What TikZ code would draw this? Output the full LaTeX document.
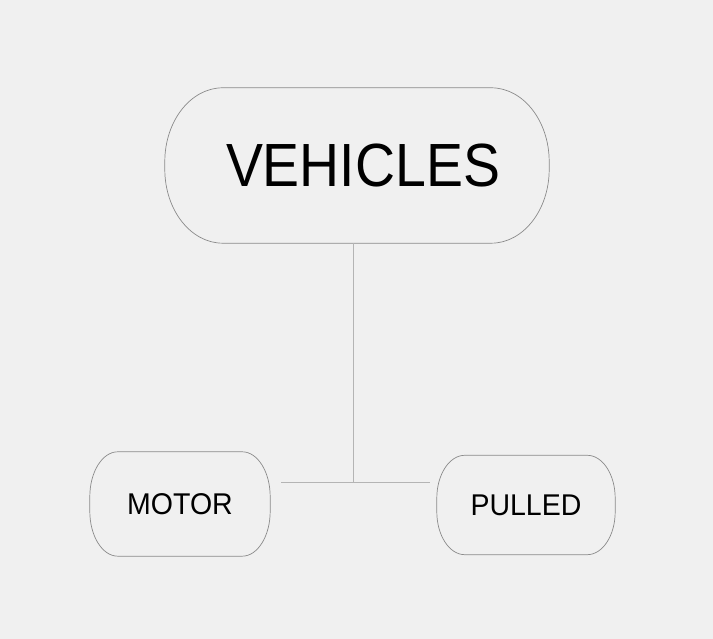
\documentclass[tikz,border=0pt]{standalone}
\usepackage{fontspec}
\setmainfont{Liberation Sans}
\definecolor{bg}{HTML}{F0F0F0}
\definecolor{edge}{HTML}{8A8A8A}
\definecolor{conn}{HTML}{B4B4B4}
% outline with elliptical corners around node #1, radii #2 (x) and #3 (y)
\newcommand{\ovalframe}[3]{%
  \pgfmathsetmacro{\kx}{0.5523*#2}\pgfmathsetmacro{\ky}{0.5523*#3}%
  \draw[frame]
    ([xshift=#2pt]#1.north west) -- ([xshift=-#2pt]#1.north east)
    .. controls +(\kx,0) and +(0,\ky) .. ([yshift=-#3pt]#1.north east)
    -- ([yshift=#3pt]#1.south east)
    .. controls +(0,-\ky) and +(\kx,0) .. ([xshift=-#2pt]#1.south east)
    -- ([xshift=#2pt]#1.south west)
    .. controls +(-\kx,0) and +(0,-\ky) .. ([yshift=#3pt]#1.south west)
    -- ([yshift=-#3pt]#1.north west)
    .. controls +(0,\ky) and +(-\kx,0) .. ([xshift=#2pt]#1.north west) -- cycle;}
\begin{document}
\begin{tikzpicture}[x=1pt,y=1pt,
  frame/.style={draw=edge, line width=0.7pt, line join=round},
  box/.style={inner sep=0pt, text=black},
  link/.style={draw=conn, line width=0.9pt}]
\fill[bg] (0,0) rectangle (713,639);
\useasboundingbox (0,0) rectangle (713,639);
% y measured from top: use 639 - y
\node[box, minimum width=384pt, minimum height=155pt] (V) at (357,473.5) {};
\node[inner sep=0pt, font=\fontsize{61}{72}\selectfont] (Vt) at (363,473.5) {\scalebox{0.908}[1]{VEHICLES}};
\node[box, minimum width=180pt, minimum height=104pt, font=\fontsize{30}{36}\selectfont] (M) at (180,135) {\scalebox{0.95}[1]{MOTOR}};
\node[box, minimum width=178pt, minimum height=99pt, font=\fontsize{30}{36}\selectfont] (P) at (526,134) {\scalebox{0.95}[1]{PULLED}};
\ovalframe{V}{58}{74}
\ovalframe{M}{28}{45}
\ovalframe{P}{28}{43}
\coordinate (j) at (353,157);
\coordinate (jl) at (281,157);
\coordinate (jr) at (430,157);
\draw[link] (j |- V.south) -- (j);
\draw[link] (jl) -- (jr);
\end{tikzpicture}
\end{document}
